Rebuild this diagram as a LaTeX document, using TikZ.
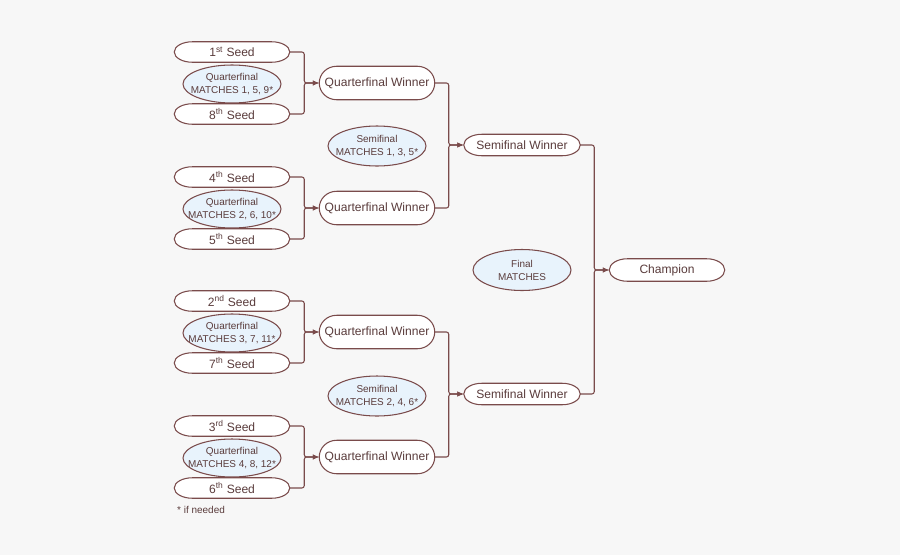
\documentclass[tikz,border=0pt]{standalone}
\usepackage{fontspec}
\setmainfont{Liberation Sans}
\usetikzlibrary{shapes.geometric,arrows.meta,calc}
\definecolor{strk}{HTML}{7A4B4B}
\definecolor{txt}{HTML}{5A3C3C}
\definecolor{efill}{HTML}{E8F3FC}
\definecolor{bg}{HTML}{F7F7F7}
\pgfdeclarelayer{back}
\pgfdeclarelayer{shapes}
\pgfsetlayers{back,shapes,main}
\tikzset{
  seedbox/.style={rectangle, text=txt, minimum width=3.45cm, minimum height=0.6cm,
    inner sep=0pt, font=\fontsize{10.3}{12}\selectfont},
  qwbox/.style={seedbox, minimum height=0.99cm},
  swbox/.style={seedbox, minimum height=0.63cm, minimum width=3.48cm},
  chbox/.style={seedbox, minimum height=0.66cm},
  capsule/.style={draw=strk, fill=white, line width=0.9pt},
  matchell/.style={ellipse, draw=strk, fill=efill, line width=0.9pt, text=txt,
    inner xsep=-20pt, inner ysep=-10pt,
    minimum width=2.94cm, minimum height=1.14cm, align=center,
    font=\fontsize{8.5}{11}\selectfont},
  conn/.style={draw=strk, line width=0.9pt, rounded corners=2pt, -{Latex[length=5.5pt,width=4.5pt]}},
}
\newcommand{\capsuleshape}[2]{%
  \draw[capsule] let \p1=(#1.north west), \p2=(#1.south east), \n1={(\y1-\y2)/2} in
    (\x1+#2,\y1) -- (\x2-#2,\y1) arc[start angle=90,end angle=-90,x radius=#2,y radius=\n1]
    -- (\x1+#2,\y2) arc[start angle=270,end angle=90,x radius=#2,y radius=\n1] -- cycle;}
\begin{document}
\begin{tikzpicture}[x=0.03cm,y=-0.03cm]
\begin{pgfonlayer}{back}
\fill[bg] (0,0) rectangle (900,555);
\end{pgfonlayer}
\useasboundingbox (0,0) rectangle (900,555);
% group 1
\node[seedbox] (s1) at (232,52) {1\textsuperscript{st} Seed};
\node[matchell] (m1) at (232,84) {Quarterfinal\\MATCHES 1, 5, 9*};
\node[seedbox] (s8) at (232,114) {8\textsuperscript{th} Seed};
\node[qwbox] (q1) at (377,83) {Quarterfinal Winner};
% group 2
\node[seedbox] (s4) at (232,177) {4\textsuperscript{th} Seed};
\node[matchell] (m2) at (232,209) {Quarterfinal\\MATCHES 2, 6, 10*};
\node[seedbox] (s5) at (232,239) {5\textsuperscript{th} Seed};
\node[qwbox] (q2) at (377,208) {Quarterfinal Winner};
% group 3
\node[seedbox] (s2) at (232,301) {2\textsuperscript{nd} Seed};
\node[matchell] (m3) at (232,333) {Quarterfinal\\MATCHES 3, 7, 11*};
\node[seedbox] (s7) at (232,363) {7\textsuperscript{th} Seed};
\node[qwbox] (q3) at (377,332) {Quarterfinal Winner};
% group 4
\node[seedbox] (s3) at (232,426) {3\textsuperscript{rd} Seed};
\node[matchell] (m4) at (232,458) {Quarterfinal\\MATCHES 4, 8, 12*};
\node[seedbox] (s6) at (232,488) {6\textsuperscript{th} Seed};
\node[qwbox] (q4) at (377,457) {Quarterfinal Winner};
% semis
\node[matchell, minimum height=1.2cm] (sm1) at (377,146) {Semifinal\\MATCHES 1, 3, 5*};
\node[swbox] (w1) at (522,145) {Semifinal Winner};
\node[matchell, minimum height=1.2cm] (sm2) at (377,396) {Semifinal\\MATCHES 2, 4, 6*};
\node[swbox] (w2) at (522,394) {Semifinal Winner};
% final
\node[matchell, minimum height=1.23cm] (fm) at (522,270) {Final\\MATCHES};
\node[chbox] (ch) at (667,270) {Champion};
% footnote
\node[anchor=west, text=txt, inner sep=0pt, font=\fontsize{8.5}{10}\selectfont] (fn) at (177,510) {* if needed};
% capsule outlines
\begin{pgfonlayer}{shapes}
\foreach \nm in {s1,s8,s4,s5,s2,s7,s3,s6,w1,w2,ch}{\capsuleshape{\nm}{0.54cm}}
\foreach \nm in {q1,q2,q3,q4}{\capsuleshape{\nm}{0.52cm}}
\end{pgfonlayer}
% connectors
\foreach \a/\b in {s1/q1, s8/q1, s4/q2, s5/q2, s2/q3, s7/q3, s3/q4, s6/q4, q1/w1, q2/w1, q3/w2, q4/w2, w1/ch, w2/ch}{
  \draw[conn] (\a.east) -| ([xshift=-0.45cm]\b.west) -- (\b.west);
}
\end{tikzpicture}
\end{document}
